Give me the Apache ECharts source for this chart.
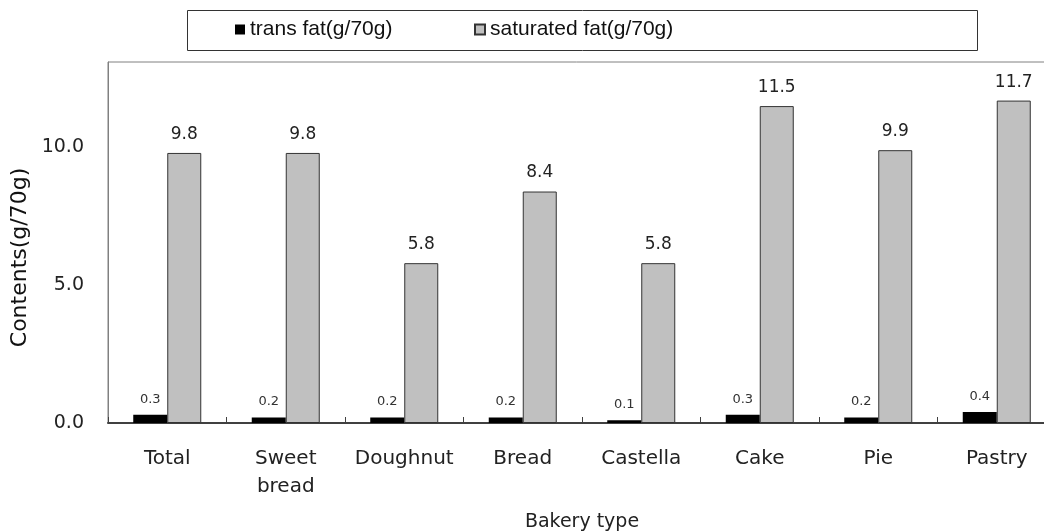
<!DOCTYPE html>
<html>
<head>
<meta charset="utf-8">
<script src="https://cdn.jsdelivr.net/npm/echarts@6/dist/echarts.min.js"></script>
<style>
    html, body { margin: 0; padding: 0; background: #fff; }
    #chart { width: 1044px; height: 531px; }
</style>
</head>
<body>
<div id="chart"></div>
<script>
// data
const categories = ["Total", "Sweet\nbread", "Doughnut", "Bread", "Castella", "Cake", "Pie", "Pastry"];
const transFat = [0.3, 0.2, 0.2, 0.2, 0.1, 0.3, 0.2, 0.4];
const saturatedFat = [9.8, 9.8, 5.8, 8.4, 5.8, 11.5, 9.9, 11.7];
const yTicks = [0, 5, 10];

const nameTrans = "trans fat(g/70g)";
const nameSat = "saturated fat(g/70g)";

const chart = echarts.init(document.getElementById("chart"));

const option = {
    animation: false,
    backgroundColor: "#fff",
    textStyle: { fontFamily: "DejaVu Sans" },
    graphic: [
        {
            // legend frame
            type: "rect",
            left: 187,
            top: 10,
            shape: { width: 790, height: 40 },
            style: { fill: "#fff", stroke: "#333", lineWidth: 1 },
            z: 0,
        },
    ],
    legend: [
        {
            data: [nameTrans],
            left: 235,
            top: 19,
            padding: 0,
            icon: "rect",
            itemWidth: 10,
            itemHeight: 10,
            itemGap: 5,
            textStyle: { fontFamily: "Liberation Sans", fontSize: 21, color: "#111" },
            z: 5,
        },
        {
            data: [nameSat],
            left: 474,
            top: 19,
            padding: 0,
            icon: "rect",
            itemWidth: 10,
            itemHeight: 10,
            itemGap: 5,
            textStyle: { fontFamily: "Liberation Sans", fontSize: 21, color: "#111" },
            z: 5,
        },
    ],
    grid: {
        left: 108,
        top: 62,
        bottom: 108,
        right: -12,
        containLabel: false,
        outerBoundsMode: "none",
        show: true,
        borderColor: "#808080",
        borderWidth: 1,
    },
    xAxis: {
        type: "category",
        data: categories,
        name: "Bakery type",
        nameLocation: "middle",
        nameGap: 90,
        nameTextStyle: { fontSize: 19, color: "#222" },
        axisLine: { lineStyle: { color: "#404040", width: 2 } },
        axisTick: { show: true, inside: true, length: 6, lineStyle: { color: "#404040" } },
        axisLabel: {
            fontSize: 20,
            color: "#222",
            margin: 22,
            lineHeight: 28,
            interval: 0,
        },
    },
    yAxis: {
        type: "value",
        min: 0,
        max: 13.1,
        interval: 5,
        name: "Contents(g/70g)",
        nameLocation: "middle",
        nameGap: 76,
        nameRotate: 90,
        nameTextStyle: { fontSize: 22, color: "#111", padding: [0, 30, 0, 0] },
        axisLine: { show: true, lineStyle: { color: "#808080" } },
        axisTick: { show: false },
        splitLine: { show: false },
        axisLabel: {
            fontSize: 19,
            color: "#222",
            margin: 24,
            showMaxLabel: false,
            formatter: (v) => (yTicks.includes(v) ? v.toFixed(1) : ""),
        },
    },
    series: [
        {
            name: nameTrans,
            type: "bar",
            data: transFat,
            barWidth: 34,
            barGap: "0%",
            itemStyle: { color: "#000" },
            label: {
                show: true,
                position: "top",
                distance: 9,
                fontSize: 13,
                color: "#333",
                formatter: (p) => p.value.toFixed(1),
            },
        },
        {
            name: nameSat,
            type: "bar",
            data: saturatedFat,
            barWidth: 34,
            barGap: "0%",
            itemStyle: { color: "#c0c0c0", borderColor: "#333", borderWidth: 1 },
            label: {
                show: true,
                position: "top",
                distance: 10,
                fontSize: 17,
                color: "#222",
                formatter: (p) => p.value.toFixed(1),
            },
        },
    ],
};

option && chart.setOption(option);
</script>
</body>
</html>
